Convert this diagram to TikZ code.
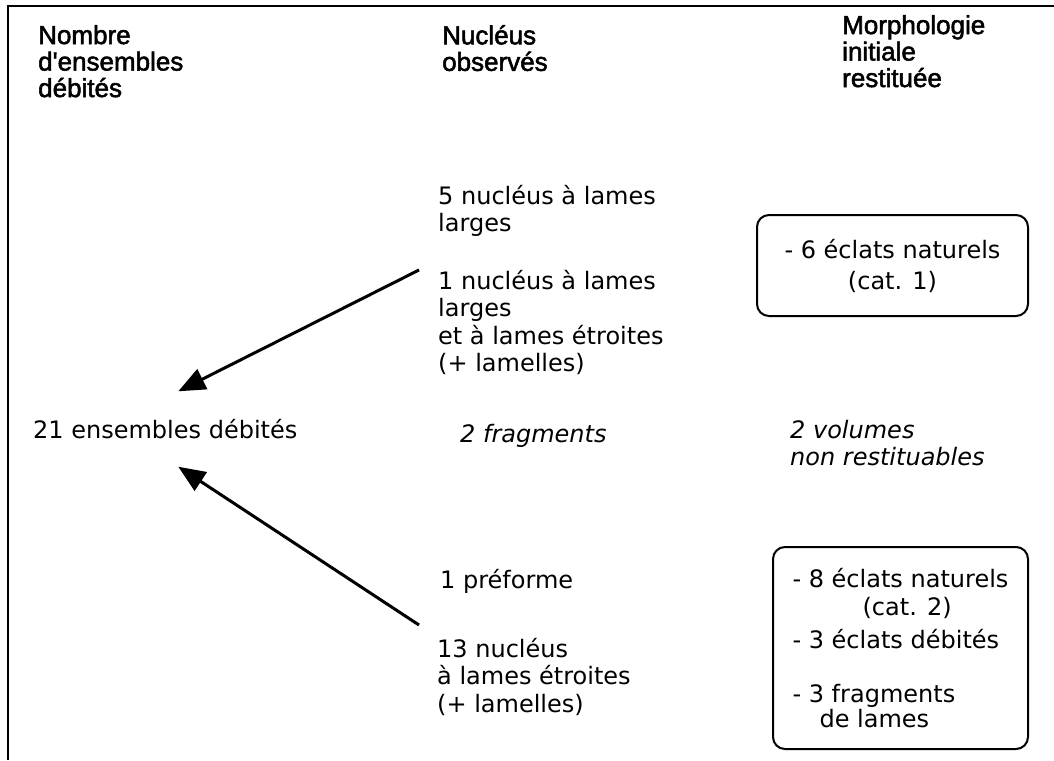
\documentclass[tikz,border=0pt]{standalone}
\usepackage{fontspec}
\setmainfont{DejaVu Sans}
\newfontfamily\headfont[FakeBold=2]{Liberation Sans}
\usepackage{tikz}
\usetikzlibrary{arrows.meta, positioning}

\begin{document}
\begin{tikzpicture}[
  x=1pt, y=-1pt,
  head/.style={anchor=north west, inner sep=0pt, align=left,
               font=\headfont\fontsize{26}{26.5}\selectfont,
               execute at begin node=\rule{0pt}{22pt}},
  txt/.style={anchor=north west, inner sep=0pt, align=left,
              font=\fontsize{24}{27.5}\selectfont,
              execute at begin node=\rule{0pt}{22pt}},
  txtit/.style={txt, font=\fontsize{24}{27.5}\selectfont\itshape},
  box/.style={draw, line width=2pt, rounded corners=12pt, inner sep=0pt,
              font=\fontsize{24}{27.5}\selectfont},
  arrow/.style={line width=3pt, -{Triangle[length=27pt, width=22pt]}},
  frame/.style={line width=2.5pt}
]
\useasboundingbox (0,0) rectangle (1054,760);

\draw[frame] (8,760) -- (8,6) -- (1054,6);

\node[head] (count) at (38,25) {Nombre\\d\textquotesingle ensembles\\débités};
\node[head] (seen) at (442,25) {Nucléus\\observés};
\node[head] (morph) at (842,15) {Morphologie\\initiale\\restituée};

\node[txt] (wide) at (438,185) {5 nucléus à lames\\larges};
\node[txt] (mixed) at (438,270) {1 nucléus à lames\\larges\\et à lames étroites\\(+ lamelles)};

\node[anchor=base west, inner xsep=0pt, inner ysep=28.5pt, text height=18pt, text depth=0pt,
      font=\fontsize{24}{27.5}\selectfont] (total) at (33,438) {21 ensembles débités};
\node[txtit] (frag) at (460,420) {2 fragments};
\node[txtit] (vol) at (790,420) {2 volumes\\non restituables};

\node[txt] (pref) at (440,566) {1 préforme};
\node[txt] (narrow) at (437,638) {13 nucléus\\à lames étroites\\(+ lamelles)};

\node[box, minimum width=271pt, minimum height=101pt, align=center] (cat1) at (892.5,265.5)
  {- 6 éclats naturels\\[3.5pt](cat. 1)};
\node[box, minimum width=255pt, minimum height=202pt, align=left] (cat2) at (900.5,648)
  {- 8 éclats naturels\\\hspace*{70pt}(cat. 2)\\[5.5pt]- 3 éclats débités\\[26.5pt]- 3 fragments\\[-2.5pt]\hspace*{27pt}de lames};

\draw[arrow] ([xshift=-19pt]mixed.north west) -- ([xshift=13pt]total.north);
\draw[arrow] ([xshift=-18pt, yshift=13pt]narrow.north west) -- ([xshift=13pt]total.south);

\end{tikzpicture}
\end{document}
